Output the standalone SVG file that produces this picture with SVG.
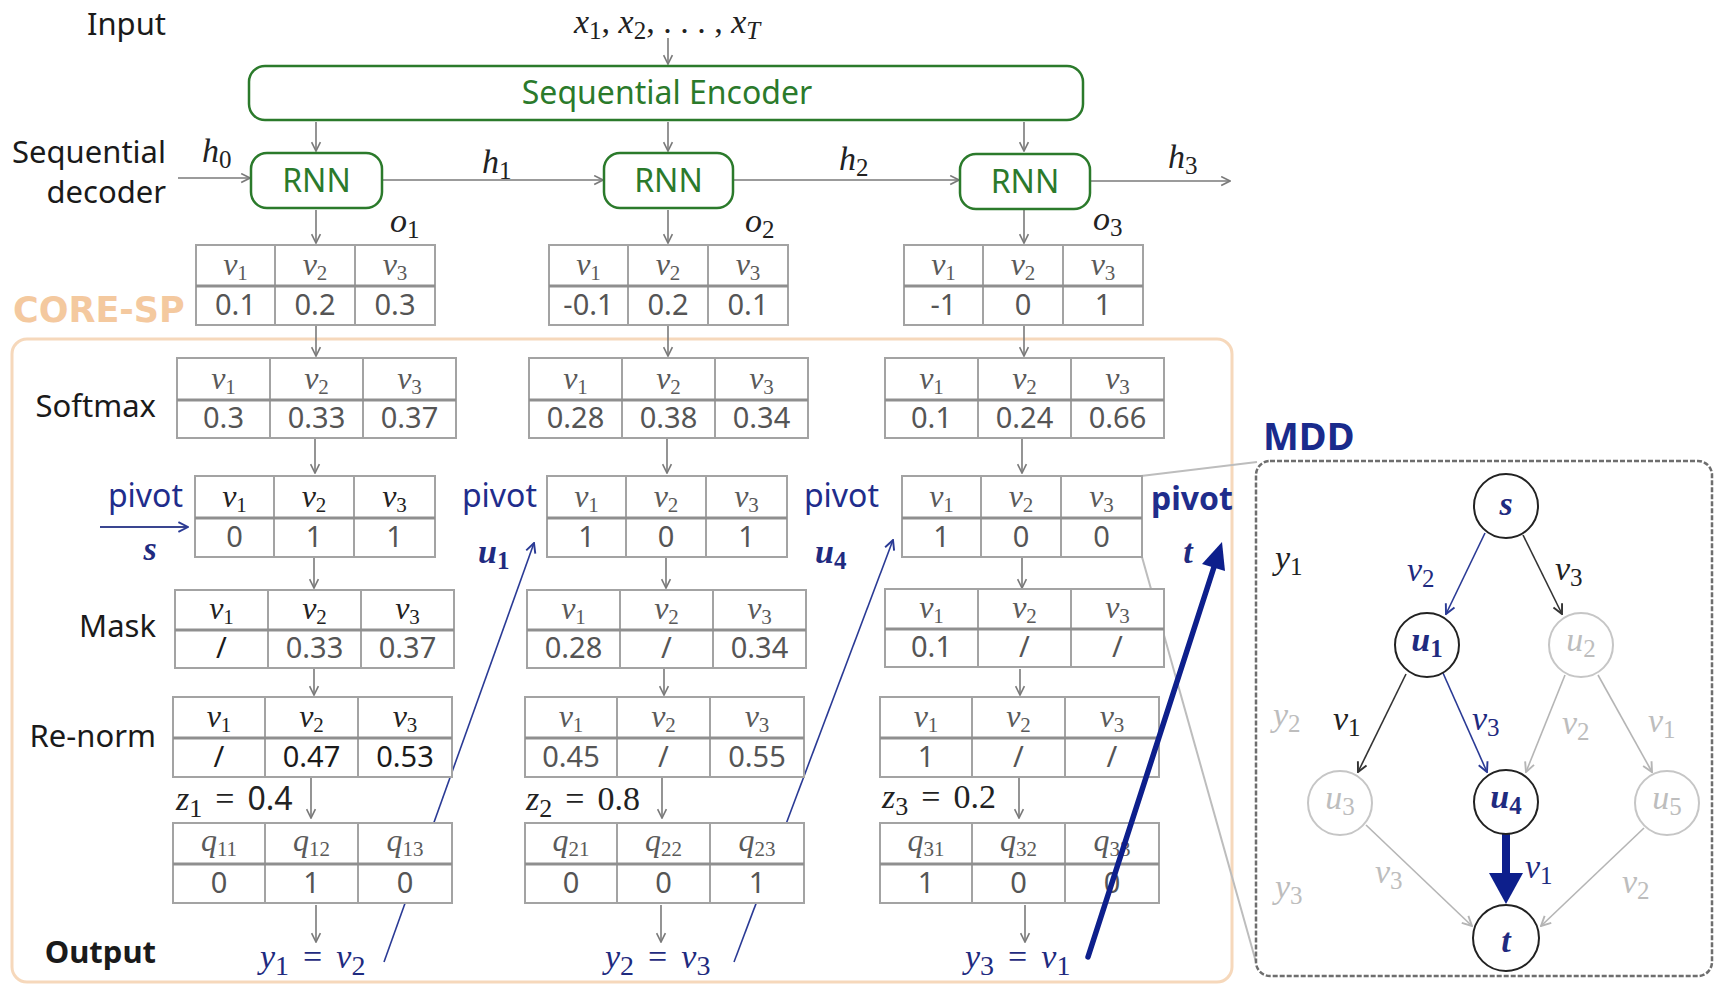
<svg xmlns="http://www.w3.org/2000/svg" width="1715" height="987" viewBox="0 0 1715 987">
<style>
.lbl{font-family:"Noto Sans","Liberation Sans",sans-serif;font-size:31px;fill:#1a1a1a}
.grn{font-family:"Noto Sans","Liberation Sans",sans-serif;font-size:32px;fill:#2b7a2b}
.mi{font-family:"Liberation Serif","DejaVu Serif",serif;font-style:italic;font-size:34px;fill:#222}
.hv{font-family:"Liberation Serif","DejaVu Serif",serif;font-style:italic;font-size:32px;fill:#5a5a5a;text-anchor:middle}
.mi tspan,.hv tspan{font-style:normal}
.mi tspan.it{font-style:italic}
.hk{fill:#222}
.num{font-family:"Noto Sans","Liberation Sans",sans-serif;font-size:29px;fill:#555;text-anchor:middle}
.nk{fill:#1a1a1a}
.tb{fill:#fff;stroke:#a3a3a3;stroke-width:2}
.tl{stroke:#a3a3a3;stroke-width:2}
.td{stroke:#8f8f8f;stroke-width:3}
.con{stroke:#7a7a7a;stroke-width:1.6;fill:none}
.box{fill:#fff;stroke:#2b7a2b;stroke-width:2.5}
.pv{font-family:"Noto Sans","Liberation Sans",sans-serif;font-size:32px;fill:#1f2d8c}
.nav{fill:#1f2b80}
.node{fill:#fff;stroke:#222;stroke-width:2}
.nodeg{fill:#fff;stroke:#c6c6c6;stroke-width:2}
.gy{fill:#bdbdbd}
</style>
<defs>
<marker id="ag" viewBox="0 0 10 10" refX="9" refY="5" markerWidth="11" markerHeight="11" markerUnits="userSpaceOnUse" orient="auto"><path d="M1,1 L9,5 L1,9" fill="none" stroke="#7a7a7a" stroke-width="1.5"/></marker>
<marker id="an" viewBox="0 0 10 10" refX="9" refY="5" markerWidth="12" markerHeight="12" markerUnits="userSpaceOnUse" orient="auto"><path d="M1,1 L9,5 L1,9" fill="none" stroke="#2a3a95" stroke-width="1.6"/></marker>
<marker id="ab" viewBox="0 0 10 10" refX="9" refY="5" markerWidth="12" markerHeight="12" markerUnits="userSpaceOnUse" orient="auto"><path d="M1,1 L9,5 L1,9" fill="none" stroke="#333" stroke-width="1.6"/></marker>
<marker id="al" viewBox="0 0 10 10" refX="9" refY="5" markerWidth="12" markerHeight="12" markerUnits="userSpaceOnUse" orient="auto"><path d="M1,1 L9,5 L1,9" fill="none" stroke="#b5b5b5" stroke-width="1.6"/></marker>
<g id="fO"><rect class="tb" width="239" height="80"/><line class="tl" x1="79" y1="0" x2="79" y2="80"/><line class="tl" x1="159" y1="0" x2="159" y2="80"/><line class="td" x1="0" y1="41" x2="239" y2="41"/></g>
<g id="fS"><rect class="tb" width="279" height="80"/><line class="tl" x1="93" y1="0" x2="93" y2="80"/><line class="tl" x1="186" y1="0" x2="186" y2="80"/><line class="td" x1="0" y1="42" x2="279" y2="42"/></g>
<g id="fP"><rect class="tb" width="240" height="81"/><line class="tl" x1="79" y1="0" x2="79" y2="81"/><line class="tl" x1="159" y1="0" x2="159" y2="81"/><line class="td" x1="0" y1="42" x2="240" y2="42"/></g>
<g id="fM"><rect class="tb" width="279" height="78"/><line class="tl" x1="93" y1="0" x2="93" y2="78"/><line class="tl" x1="186" y1="0" x2="186" y2="78"/><line class="td" x1="0" y1="40" x2="279" y2="40"/></g>
<g id="fR"><rect class="tb" width="279" height="80"/><line class="tl" x1="92" y1="0" x2="92" y2="80"/><line class="tl" x1="185" y1="0" x2="185" y2="80"/><line class="td" x1="0" y1="41" x2="279" y2="41"/></g>
</defs>

<rect width="1715" height="987" fill="#fff"/>

<!-- CORE-SP frame -->
<g id="core-sp">
<rect x="12" y="339" width="1220" height="643" rx="15" fill="none" stroke="#f6d8bb" stroke-width="3"/>
<text x="13" y="322" font-family="DejaVu Sans,Noto Sans,sans-serif" font-weight="bold" font-size="35" fill="#f4c99f">CORE-SP</text>
</g>

<!-- row labels -->
<g id="labels">
<text class="lbl" x="166" y="35" text-anchor="end">Input</text>
<text class="lbl" x="166" y="163" text-anchor="end">Sequential</text>
<text class="lbl" x="166" y="203" text-anchor="end">decoder</text>
<text class="lbl" x="156" y="417" text-anchor="end">Softmax</text>
<text class="lbl" x="156" y="637" text-anchor="end">Mask</text>
<text class="lbl" x="156" y="747" text-anchor="end" font-size="33">Re-norm</text>
<text class="lbl" x="156" y="963" text-anchor="end" font-weight="bold">Output</text>
</g>

<!-- math labels -->
<g id="math">
<text class="mi" x="574" y="33" font-size="35">x<tspan font-size="25" dy="6">1</tspan><tspan dy="-6">, </tspan><tspan class="it">x</tspan><tspan font-size="25" dy="6">2</tspan><tspan dy="-6">, . . . , </tspan><tspan class="it">x</tspan><tspan class="it" font-size="25" dy="6">T</tspan></text>
<text class="mi" x="202" y="162">h<tspan font-size="25" dy="6">0</tspan></text>
<text class="mi" x="482" y="173">h<tspan font-size="25" dy="6">1</tspan></text>
<text class="mi" x="839" y="170">h<tspan font-size="25" dy="6">2</tspan></text>
<text class="mi" x="1168" y="168">h<tspan font-size="25" dy="6">3</tspan></text>
<text class="mi" x="390" y="232">o<tspan font-size="25" dy="6">1</tspan></text>
<text class="mi" x="745" y="232">o<tspan font-size="25" dy="6">2</tspan></text>
<text class="mi" x="1093" y="230">o<tspan font-size="25" dy="6">3</tspan></text>
<text class="mi" x="176" y="810" font-size="37">z<tspan font-size="26" dy="7">1</tspan><tspan dy="-7" dx="13">=</tspan><tspan dx="13" font-family="Noto Sans,sans-serif" font-size="32">0.4</tspan></text>
<text class="mi" x="526" y="810" font-size="37">z<tspan font-size="26" dy="7">2</tspan><tspan dy="-7" dx="13">=</tspan><tspan dx="13">0.8</tspan></text>
<text class="mi" x="882" y="808" font-size="37">z<tspan font-size="26" dy="7">3</tspan><tspan dy="-7" dx="13">=</tspan><tspan dx="13">0.2</tspan></text>
<text class="mi nav" x="260" y="968" font-size="40">y<tspan font-size="28" dy="7">1</tspan><tspan dy="-7" dx="14">=</tspan><tspan class="it" dx="14">v</tspan><tspan font-size="28" dy="7">2</tspan></text>
<text class="mi nav" x="605" y="968" font-size="40">y<tspan font-size="28" dy="7">2</tspan><tspan dy="-7" dx="14">=</tspan><tspan class="it" dx="14">v</tspan><tspan font-size="28" dy="7">3</tspan></text>
<text class="mi nav" x="965" y="968" font-size="40">y<tspan font-size="28" dy="7">3</tspan><tspan dy="-7" dx="14">=</tspan><tspan class="it" dx="14">v</tspan><tspan font-size="28" dy="7">1</tspan></text>
</g>

<!-- pivot labels -->
<g id="pivots">
<text class="pv" x="183" y="507" text-anchor="end">pivot</text>
<text class="pv" x="537" y="507" text-anchor="end">pivot</text>
<text class="pv" x="879" y="507" text-anchor="end">pivot</text>
<text class="pv" x="1233" y="510" text-anchor="end" font-weight="bold" font-size="34">pivot</text>
<text class="mi nav" x="150" y="560" font-size="38" font-weight="bold" text-anchor="middle">s</text>
<text class="mi nav" x="478" y="563" font-weight="bold">u<tspan font-size="25" dy="6">1</tspan></text>
<text class="mi nav" x="815" y="563" font-weight="bold">u<tspan font-size="25" dy="6">4</tspan></text>
<text class="mi nav" x="1188" y="563" font-size="36" font-weight="bold" text-anchor="middle">t</text>
</g>

<!-- connectors behind tables -->
<g id="connectors">
<line class="con" x1="668" y1="38" x2="668" y2="64" marker-end="url(#ag)"/>
<line class="con" x1="316" y1="122" x2="316" y2="151" marker-end="url(#ag)"/>
<line class="con" x1="668" y1="122" x2="668" y2="151" marker-end="url(#ag)"/>
<line class="con" x1="1024" y1="122" x2="1024" y2="151" marker-end="url(#ag)"/>
<line class="con" x1="178" y1="178" x2="250" y2="178" marker-end="url(#ag)"/>
<line class="con" x1="383" y1="180" x2="603" y2="180" marker-end="url(#ag)"/>
<line class="con" x1="734" y1="180" x2="959" y2="180" marker-end="url(#ag)"/>
<line class="con" x1="1090" y1="181" x2="1230" y2="181" marker-end="url(#ag)"/>
<line class="con" x1="316" y1="210" x2="316" y2="243" marker-end="url(#ag)"/>
<line class="con" x1="668" y1="210" x2="668" y2="243" marker-end="url(#ag)"/>
<line class="con" x1="1024" y1="210" x2="1024" y2="243" marker-end="url(#ag)"/>
<line class="con" x1="316" y1="326" x2="316" y2="356" marker-end="url(#ag)"/>
<line class="con" x1="668" y1="326" x2="668" y2="356" marker-end="url(#ag)"/>
<line class="con" x1="1024" y1="326" x2="1024" y2="356" marker-end="url(#ag)"/>
<line class="con" x1="315" y1="439" x2="315" y2="473" marker-end="url(#ag)"/>
<line class="con" x1="667" y1="439" x2="667" y2="473" marker-end="url(#ag)"/>
<line class="con" x1="1022" y1="439" x2="1022" y2="473" marker-end="url(#ag)"/>
<line class="con" x1="314" y1="558" x2="314" y2="588" marker-end="url(#ag)"/>
<line class="con" x1="666" y1="558" x2="666" y2="588" marker-end="url(#ag)"/>
<line class="con" x1="1022" y1="558" x2="1022" y2="588" marker-end="url(#ag)"/>
<line class="con" x1="314" y1="669" x2="314" y2="695" marker-end="url(#ag)"/>
<line class="con" x1="664" y1="669" x2="664" y2="695" marker-end="url(#ag)"/>
<line class="con" x1="1020" y1="669" x2="1020" y2="695" marker-end="url(#ag)"/>
<line class="con" x1="311" y1="778" x2="311" y2="818" marker-end="url(#ag)"/>
<line class="con" x1="662" y1="778" x2="662" y2="818" marker-end="url(#ag)"/>
<line class="con" x1="1019" y1="778" x2="1019" y2="818" marker-end="url(#ag)"/>
<line class="con" x1="316" y1="905" x2="316" y2="942" marker-end="url(#ag)"/>
<line class="con" x1="661" y1="905" x2="661" y2="942" marker-end="url(#ag)"/>
<line class="con" x1="1025" y1="905" x2="1025" y2="942" marker-end="url(#ag)"/>
<line x1="100" y1="527" x2="188" y2="527" stroke="#3a4690" stroke-width="2" marker-end="url(#an)"/>
<line x1="384" y1="962" x2="534" y2="543" stroke="#2a3a95" stroke-width="1.6" marker-end="url(#an)"/>
<line x1="734" y1="962" x2="893" y2="540" stroke="#2a3a95" stroke-width="1.6" marker-end="url(#an)"/>
<line x1="1141" y1="476" x2="1257" y2="462" stroke="#bdbdbd" stroke-width="2"/>
<line x1="1142" y1="557" x2="1256" y2="962" stroke="#bdbdbd" stroke-width="2"/>
</g>

<!-- encoder / RNN -->
<g id="encoder"><rect class="box" x="249" y="66" width="834" height="54" rx="16"/><text class="grn" x="667" y="104" text-anchor="middle">Sequential Encoder</text></g>
<g id="rnn1"><rect class="box" x="251" y="153" width="131" height="55" rx="16"/><text class="grn" x="316.5" y="192" text-anchor="middle">RNN</text></g>
<g id="rnn2"><rect class="box" x="604" y="153" width="129" height="55" rx="16"/><text class="grn" x="668.5" y="192" text-anchor="middle">RNN</text></g>
<g id="rnn3"><rect class="box" x="960" y="154" width="130" height="55" rx="16"/><text class="grn" x="1025" y="193" text-anchor="middle">RNN</text></g>

<!-- o tables -->
<g id="o1" transform="translate(196,245)"><use href="#fO"/>
<text class="hv" x="39.5" y="30">v<tspan font-size="21" dy="5">1</tspan></text><text class="hv" x="119" y="30">v<tspan font-size="21" dy="5">2</tspan></text><text class="hv" x="199" y="30">v<tspan font-size="21" dy="5">3</tspan></text>
<text class="num" x="39.5" y="70">0.1</text><text class="num" x="119" y="70">0.2</text><text class="num" x="199" y="70">0.3</text></g>
<g id="o2" transform="translate(549,245)"><use href="#fO"/>
<text class="hv" x="39.5" y="30">v<tspan font-size="21" dy="5">1</tspan></text><text class="hv" x="119" y="30">v<tspan font-size="21" dy="5">2</tspan></text><text class="hv" x="199" y="30">v<tspan font-size="21" dy="5">3</tspan></text>
<text class="num" x="39.5" y="70">-0.1</text><text class="num" x="119" y="70">0.2</text><text class="num" x="199" y="70">0.1</text></g>
<g id="o3" transform="translate(904,245)"><use href="#fO"/>
<text class="hv" x="39.5" y="30">v<tspan font-size="21" dy="5">1</tspan></text><text class="hv" x="119" y="30">v<tspan font-size="21" dy="5">2</tspan></text><text class="hv" x="199" y="30">v<tspan font-size="21" dy="5">3</tspan></text>
<text class="num" x="39.5" y="70">-1</text><text class="num" x="119" y="70">0</text><text class="num" x="199" y="70">1</text></g>

<!-- softmax tables -->
<g id="sm1" transform="translate(177,358)"><use href="#fS"/>
<text class="hv" x="46.5" y="31">v<tspan font-size="21" dy="5">1</tspan></text><text class="hv" x="139.5" y="31">v<tspan font-size="21" dy="5">2</tspan></text><text class="hv" x="232.5" y="31">v<tspan font-size="21" dy="5">3</tspan></text>
<text class="num" x="46.5" y="70">0.3</text><text class="num" x="139.5" y="70">0.33</text><text class="num" x="232.5" y="70">0.37</text></g>
<g id="sm2" transform="translate(529,358)"><use href="#fS"/>
<text class="hv" x="46.5" y="31">v<tspan font-size="21" dy="5">1</tspan></text><text class="hv" x="139.5" y="31">v<tspan font-size="21" dy="5">2</tspan></text><text class="hv" x="232.5" y="31">v<tspan font-size="21" dy="5">3</tspan></text>
<text class="num" x="46.5" y="70">0.28</text><text class="num" x="139.5" y="70">0.38</text><text class="num" x="232.5" y="70">0.34</text></g>
<g id="sm3" transform="translate(885,358)"><use href="#fS"/>
<text class="hv" x="46.5" y="31">v<tspan font-size="21" dy="5">1</tspan></text><text class="hv" x="139.5" y="31">v<tspan font-size="21" dy="5">2</tspan></text><text class="hv" x="232.5" y="31">v<tspan font-size="21" dy="5">3</tspan></text>
<text class="num" x="46.5" y="70">0.1</text><text class="num" x="139.5" y="70">0.24</text><text class="num" x="232.5" y="70">0.66</text></g>

<!-- pivot tables -->
<g id="pv1" transform="translate(195,476)"><use href="#fP"/>
<text class="hv hk" x="39.5" y="31">v<tspan font-size="21" dy="5">1</tspan></text><text class="hv hk" x="119" y="31">v<tspan font-size="21" dy="5">2</tspan></text><text class="hv hk" x="199.5" y="31">v<tspan font-size="21" dy="5">3</tspan></text>
<text class="num" x="39.5" y="71">0</text><text class="num" x="119" y="71">1</text><text class="num" x="199.5" y="71">1</text></g>
<g id="pv2" transform="translate(547,476)"><use href="#fP"/>
<text class="hv" x="39.5" y="31">v<tspan font-size="21" dy="5">1</tspan></text><text class="hv" x="119" y="31">v<tspan font-size="21" dy="5">2</tspan></text><text class="hv" x="199.5" y="31">v<tspan font-size="21" dy="5">3</tspan></text>
<text class="num" x="39.5" y="71">1</text><text class="num" x="119" y="71">0</text><text class="num" x="199.5" y="71">1</text></g>
<g id="pv3" transform="translate(902,476)"><use href="#fP"/>
<text class="hv" x="39.5" y="31">v<tspan font-size="21" dy="5">1</tspan></text><text class="hv" x="119" y="31">v<tspan font-size="21" dy="5">2</tspan></text><text class="hv" x="199.5" y="31">v<tspan font-size="21" dy="5">3</tspan></text>
<text class="num" x="39.5" y="71">1</text><text class="num" x="119" y="71">0</text><text class="num" x="199.5" y="71">0</text></g>

<!-- mask tables -->
<g id="mk1" transform="translate(175,590)"><use href="#fM"/>
<text class="hv hk" x="46.5" y="29">v<tspan font-size="21" dy="5">1</tspan></text><text class="hv hk" x="139.5" y="29">v<tspan font-size="21" dy="5">2</tspan></text><text class="hv hk" x="232.5" y="29">v<tspan font-size="21" dy="5">3</tspan></text>
<text class="num nk" x="46.5" y="68">/</text><text class="num" x="139.5" y="68">0.33</text><text class="num" x="232.5" y="68">0.37</text></g>
<g id="mk2" transform="translate(527,590)"><use href="#fM"/>
<text class="hv" x="46.5" y="29">v<tspan font-size="21" dy="5">1</tspan></text><text class="hv" x="139.5" y="29">v<tspan font-size="21" dy="5">2</tspan></text><text class="hv" x="232.5" y="29">v<tspan font-size="21" dy="5">3</tspan></text>
<text class="num" x="46.5" y="68">0.28</text><text class="num" x="139.5" y="68">/</text><text class="num" x="232.5" y="68">0.34</text></g>
<g id="mk3" transform="translate(885,589)"><use href="#fM"/>
<text class="hv" x="46.5" y="29">v<tspan font-size="21" dy="5">1</tspan></text><text class="hv" x="139.5" y="29">v<tspan font-size="21" dy="5">2</tspan></text><text class="hv" x="232.5" y="29">v<tspan font-size="21" dy="5">3</tspan></text>
<text class="num" x="46.5" y="68">0.1</text><text class="num" x="139.5" y="68">/</text><text class="num" x="232.5" y="68">/</text></g>

<!-- re-norm tables -->
<g id="rn1" transform="translate(173,697)"><use href="#fR"/>
<text class="hv hk" x="46" y="30">v<tspan font-size="21" dy="5">1</tspan></text><text class="hv hk" x="138.5" y="30">v<tspan font-size="21" dy="5">2</tspan></text><text class="hv hk" x="232" y="30">v<tspan font-size="21" dy="5">3</tspan></text>
<text class="num nk" x="46" y="70">/</text><text class="num nk" x="138.5" y="70">0.47</text><text class="num nk" x="232" y="70">0.53</text></g>
<g id="rn2" transform="translate(525,697)"><use href="#fR"/>
<text class="hv" x="46" y="30">v<tspan font-size="21" dy="5">1</tspan></text><text class="hv" x="138.5" y="30">v<tspan font-size="21" dy="5">2</tspan></text><text class="hv" x="232" y="30">v<tspan font-size="21" dy="5">3</tspan></text>
<text class="num" x="46" y="70">0.45</text><text class="num" x="138.5" y="70">/</text><text class="num" x="232" y="70">0.55</text></g>
<g id="rn3" transform="translate(880,697)"><use href="#fR"/>
<text class="hv" x="46" y="30">v<tspan font-size="21" dy="5">1</tspan></text><text class="hv" x="138.5" y="30">v<tspan font-size="21" dy="5">2</tspan></text><text class="hv" x="232" y="30">v<tspan font-size="21" dy="5">3</tspan></text>
<text class="num" x="46" y="70">1</text><text class="num" x="138.5" y="70">/</text><text class="num" x="232" y="70">/</text></g>

<!-- q tables -->
<g id="q1" transform="translate(173,823)"><use href="#fR"/>
<text class="hv" x="46" y="28">q<tspan font-size="21" dy="5">11</tspan></text><text class="hv" x="138.5" y="28">q<tspan font-size="21" dy="5">12</tspan></text><text class="hv" x="232" y="28">q<tspan font-size="21" dy="5">13</tspan></text>
<text class="num" x="46" y="70">0</text><text class="num" x="138.5" y="70">1</text><text class="num" x="232" y="70">0</text></g>
<g id="q2" transform="translate(525,823)"><use href="#fR"/>
<text class="hv" x="46" y="28">q<tspan font-size="21" dy="5">21</tspan></text><text class="hv" x="138.5" y="28">q<tspan font-size="21" dy="5">22</tspan></text><text class="hv" x="232" y="28">q<tspan font-size="21" dy="5">23</tspan></text>
<text class="num" x="46" y="70">0</text><text class="num" x="138.5" y="70">0</text><text class="num" x="232" y="70">1</text></g>
<g id="q3" transform="translate(880,823)"><use href="#fR"/>
<text class="hv" x="46" y="28">q<tspan font-size="21" dy="5">31</tspan></text><text class="hv" x="138.5" y="28">q<tspan font-size="21" dy="5">32</tspan></text><text class="hv" x="232" y="28">q<tspan font-size="21" dy="5">33</tspan></text>
<text class="num" x="46" y="70">1</text><text class="num" x="138.5" y="70">0</text><text class="num" x="232" y="70">0</text></g>

<!-- thick pivot arrow on top -->
<g id="pivot-t-arrow">
<line x1="1088" y1="957" x2="1214" y2="567" stroke="#0d1f8c" stroke-width="5.5" stroke-linecap="round"/>
<polygon points="1222,542 1225,571 1202,564" fill="#0d1f8c"/>
</g>

<!-- MDD -->
<g id="mdd">
<text x="1263" y="450" font-family="Noto Sans,Liberation Sans,sans-serif" font-weight="bold" font-size="38" fill="#1a2b8c">MDD</text>
<rect x="1256" y="461" width="456" height="515" rx="14" fill="#fff" stroke="#6e6e6e" stroke-width="2.5" stroke-dasharray="5 2"/>
<g id="mdd-edges">
<line x1="1485" y1="533" x2="1446" y2="614" stroke="#2a3a95" stroke-width="1.6" marker-end="url(#an)"/>
<line x1="1523" y1="535" x2="1562" y2="614" stroke="#333" stroke-width="1.6" marker-end="url(#ab)"/>
<line x1="1406" y1="674" x2="1358" y2="772" stroke="#333" stroke-width="1.6" marker-end="url(#ab)"/>
<line x1="1443" y1="673" x2="1487" y2="772" stroke="#2a3a95" stroke-width="1.6" marker-end="url(#an)"/>
<line x1="1565" y1="675" x2="1526" y2="772" stroke="#b5b5b5" stroke-width="1.6" marker-end="url(#al)"/>
<line x1="1598" y1="675" x2="1652" y2="772" stroke="#b5b5b5" stroke-width="1.6" marker-end="url(#al)"/>
<line x1="1366" y1="825" x2="1472" y2="926" stroke="#b5b5b5" stroke-width="1.6" marker-end="url(#al)"/>
<line x1="1644" y1="828" x2="1541" y2="926" stroke="#b5b5b5" stroke-width="1.6" marker-end="url(#al)"/>
<line x1="1506" y1="834" x2="1506" y2="876" stroke="#0d1f8c" stroke-width="8"/>
<polygon points="1489,873 1523,873 1506,904" fill="#0d1f8c"/>
</g>
<g id="mdd-labels">
<text class="mi" x="1275" y="569" fill="#555">y<tspan font-size="25" dy="6">1</tspan></text>
<text class="mi gy" x="1273" y="726">y<tspan font-size="25" dy="6">2</tspan></text>
<text class="mi gy" x="1275" y="898">y<tspan font-size="25" dy="6">3</tspan></text>
<text class="mi nav" x="1407" y="581">v<tspan font-size="25" dy="6">2</tspan></text>
<text class="mi" x="1555" y="580">v<tspan font-size="25" dy="6">3</tspan></text>
<text class="mi" x="1333" y="730">v<tspan font-size="25" dy="6">1</tspan></text>
<text class="mi nav" x="1472" y="730">v<tspan font-size="25" dy="6">3</tspan></text>
<text class="mi gy" x="1562" y="734">v<tspan font-size="25" dy="6">2</tspan></text>
<text class="mi gy" x="1648" y="732">v<tspan font-size="25" dy="6">1</tspan></text>
<text class="mi gy" x="1375" y="883">v<tspan font-size="25" dy="6">3</tspan></text>
<text class="mi nav" x="1525" y="878">v<tspan font-size="25" dy="6">1</tspan></text>
<text class="mi gy" x="1622" y="893">v<tspan font-size="25" dy="6">2</tspan></text>
</g>
<g id="n-s"><circle class="node" cx="1506" cy="506" r="32"/><text class="mi nav" x="1506" y="515" font-size="36" font-weight="bold" text-anchor="middle">s</text></g>
<g id="n-u1"><circle class="node" cx="1427" cy="645" r="32"/><text class="mi nav" x="1427" y="651" font-weight="bold" text-anchor="middle">u<tspan font-size="25" dy="6">1</tspan></text></g>
<g id="n-u2"><circle class="nodeg" cx="1581" cy="645" r="32"/><text class="mi gy" x="1581" y="651" text-anchor="middle">u<tspan font-size="25" dy="6">2</tspan></text></g>
<g id="n-u3"><circle class="nodeg" cx="1340" cy="803" r="32"/><text class="mi gy" x="1340" y="809" text-anchor="middle">u<tspan font-size="25" dy="6">3</tspan></text></g>
<g id="n-u4"><circle class="node" cx="1506" cy="802" r="32"/><text class="mi nav" x="1506" y="808" font-weight="bold" text-anchor="middle">u<tspan font-size="25" dy="6">4</tspan></text></g>
<g id="n-u5"><circle class="nodeg" cx="1667" cy="803" r="32"/><text class="mi gy" x="1667" y="809" text-anchor="middle">u<tspan font-size="25" dy="6">5</tspan></text></g>
<g id="n-t"><circle class="node" cx="1506" cy="938" r="33"/><text class="mi nav" x="1506" y="952" font-size="42" font-weight="bold" text-anchor="middle">t</text></g>
</g>
</svg>
